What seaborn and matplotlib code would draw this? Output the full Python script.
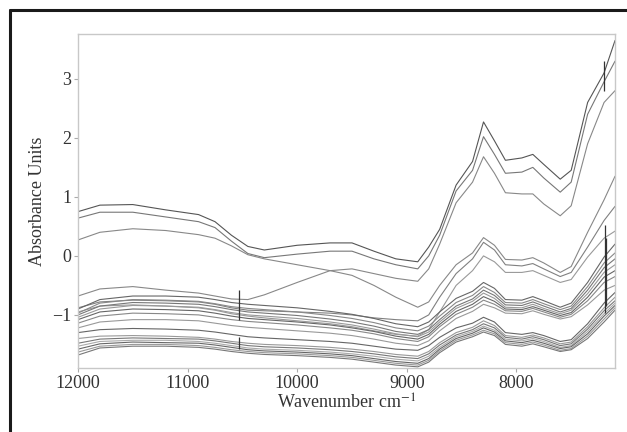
import numpy as np
import pandas as pd
import matplotlib.pyplot as plt
from matplotlib.lines import Line2D
import seaborn as sns

# wavenumber grid (cm-1)
wn = [12000, 11800, 11500, 11200, 10900, 10750, 10600, 10450, 10300, 10000,
      9700, 9500, 9300, 9100, 8900, 8800, 8700, 8550, 8400, 8300,
      8200, 8100, 7950, 7850, 7750, 7600, 7500, 7350, 7200, 7100]

# top group
A = [0.75, 0.86, 0.87, 0.78, 0.70, 0.58, 0.35, 0.16, 0.10, 0.18,
     0.22, 0.22, 0.08, -0.05, -0.10, 0.15, 0.45, 1.20, 1.60, 2.27,
     1.95, 1.62, 1.66, 1.72, 1.55, 1.30, 1.45, 2.60, 3.10, 3.65]
B = [0.64, 0.74, 0.74, 0.66, 0.58, 0.48, 0.25, 0.04, -0.03, 0.03,
     0.08, 0.08, -0.05, -0.15, -0.22, 0.00, 0.35, 1.10, 1.45, 2.02,
     1.72, 1.40, 1.42, 1.50, 1.32, 1.08, 1.25, 2.40, 2.95, 3.30]
C = [-0.68, -0.56, -0.52, -0.58, -0.63, -0.68, -0.73, -0.74, -0.66, -0.45,
     -0.25, -0.22, -0.30, -0.38, -0.43, -0.22, 0.20, 0.90, 1.25, 1.68,
     1.40, 1.07, 1.05, 1.05, 0.88, 0.68, 0.85, 1.90, 2.60, 2.80]
# middle group
M1 = [0.27, 0.40, 0.46, 0.43, 0.36, 0.30, 0.17, 0.02, -0.05, -0.15,
      -0.25, -0.33, -0.50, -0.70, -0.87, -0.78, -0.50, -0.15, 0.05, 0.31,
      0.18, -0.06, -0.07, -0.03, -0.12, -0.28, -0.18, 0.40, 0.95, 1.35]
M2 = [-0.88, -0.78, -0.75, -0.76, -0.78, -0.82, -0.88, -0.92, -0.93, -0.95,
      -0.97, -1.00, -1.05, -1.08, -1.10, -1.00, -0.70, -0.30, -0.05, 0.23,
      0.10, -0.15, -0.17, -0.13, -0.22, -0.35, -0.28, 0.15, 0.60, 0.84]
M3 = [-0.95, -0.85, -0.83, -0.85, -0.88, -0.92, -0.98, -1.02, -1.05, -1.10,
      -1.15, -1.20, -1.27, -1.33, -1.36, -1.25, -0.95, -0.50, -0.25, 0.00,
      -0.10, -0.28, -0.28, -0.25, -0.33, -0.45, -0.40, -0.02, 0.30, 0.42]
# upper part of the low bundle
U1 = [-0.90, -0.74, -0.68, -0.68, -0.70, -0.74, -0.79, -0.82, -0.84, -0.88,
      -0.94, -0.99, -1.06, -1.15, -1.20, -1.12, -0.95, -0.72, -0.60, -0.45,
      -0.55, -0.74, -0.75, -0.69, -0.76, -0.87, -0.80, -0.45, -0.02, 0.20]
U2 = [-0.97, -0.80, -0.74, -0.75, -0.77, -0.81, -0.86, -0.89, -0.91, -0.95,
      -1.01, -1.06, -1.13, -1.22, -1.27, -1.19, -1.02, -0.79, -0.67, -0.52,
      -0.62, -0.79, -0.80, -0.74, -0.81, -0.91, -0.85, -0.52, -0.12, 0.05]
U3 = [-1.00, -0.85, -0.79, -0.80, -0.82, -0.86, -0.91, -0.95, -0.97, -1.01,
      -1.07, -1.12, -1.19, -1.28, -1.33, -1.25, -1.08, -0.85, -0.73, -0.58,
      -0.67, -0.83, -0.84, -0.78, -0.85, -0.95, -0.89, -0.58, -0.20, -0.05]
U4 = [-1.04, -0.90, -0.84, -0.85, -0.87, -0.91, -0.96, -1.00, -1.02, -1.06,
      -1.12, -1.17, -1.24, -1.32, -1.37, -1.29, -1.12, -0.89, -0.77, -0.63,
      -0.72, -0.87, -0.88, -0.82, -0.89, -0.98, -0.92, -0.64, -0.28, -0.15]
U5 = [-1.08, -0.95, -0.90, -0.91, -0.93, -0.97, -1.02, -1.06, -1.08, -1.12,
      -1.17, -1.22, -1.28, -1.36, -1.41, -1.33, -1.16, -0.94, -0.82, -0.69,
      -0.77, -0.90, -0.91, -0.86, -0.92, -1.01, -0.96, -0.70, -0.36, -0.25]
U6 = [-1.14, -1.02, -0.97, -0.98, -1.00, -1.04, -1.08, -1.11, -1.13, -1.17,
      -1.22, -1.26, -1.32, -1.40, -1.45, -1.37, -1.20, -0.99, -0.87, -0.75,
      -0.82, -0.93, -0.94, -0.89, -0.95, -1.04, -0.99, -0.76, -0.45, -0.35]
U7 = [-1.22, -1.12, -1.08, -1.08, -1.10, -1.14, -1.18, -1.21, -1.23, -1.27,
      -1.31, -1.35, -1.41, -1.48, -1.52, -1.44, -1.27, -1.06, -0.94, -0.82,
      -0.88, -0.97, -0.98, -0.93, -0.99, -1.07, -1.03, -0.83, -0.58, -0.50]
# lowest bundle
L1 = [-1.30, -1.25, -1.23, -1.24, -1.26, -1.29, -1.33, -1.37, -1.39, -1.42,
      -1.45, -1.48, -1.53, -1.58, -1.60, -1.52, -1.38, -1.22, -1.14, -1.04,
      -1.12, -1.30, -1.33, -1.30, -1.35, -1.45, -1.42, -1.15, -0.80, -0.62]
L2 = [-1.40, -1.36, -1.35, -1.36, -1.38, -1.41, -1.45, -1.48, -1.50, -1.52,
      -1.55, -1.58, -1.62, -1.67, -1.70, -1.62, -1.47, -1.30, -1.21, -1.10,
      -1.18, -1.35, -1.38, -1.34, -1.39, -1.49, -1.46, -1.20, -0.88, -0.70]
L3 = [-1.48, -1.41, -1.39, -1.40, -1.41, -1.44, -1.48, -1.52, -1.54, -1.56,
      -1.59, -1.62, -1.66, -1.71, -1.74, -1.66, -1.51, -1.34, -1.25, -1.15,
      -1.22, -1.38, -1.41, -1.37, -1.42, -1.52, -1.49, -1.24, -0.93, -0.76]
L4 = [-1.53, -1.45, -1.43, -1.43, -1.45, -1.48, -1.52, -1.56, -1.58, -1.60,
      -1.63, -1.66, -1.70, -1.75, -1.78, -1.70, -1.55, -1.37, -1.28, -1.19,
      -1.26, -1.41, -1.44, -1.40, -1.45, -1.55, -1.52, -1.28, -0.98, -0.80]
L5 = [-1.58, -1.49, -1.46, -1.47, -1.48, -1.51, -1.55, -1.59, -1.61, -1.63,
      -1.66, -1.69, -1.74, -1.79, -1.82, -1.74, -1.58, -1.40, -1.31, -1.22,
      -1.29, -1.44, -1.47, -1.43, -1.48, -1.57, -1.54, -1.32, -1.02, -0.84]
L6 = [-1.63, -1.53, -1.50, -1.50, -1.52, -1.55, -1.59, -1.62, -1.64, -1.66,
      -1.69, -1.72, -1.77, -1.82, -1.85, -1.77, -1.61, -1.43, -1.34, -1.26,
      -1.32, -1.47, -1.50, -1.46, -1.51, -1.60, -1.57, -1.36, -1.07, -0.88]
L7 = [-1.68, -1.56, -1.53, -1.53, -1.55, -1.58, -1.62, -1.65, -1.67, -1.69,
      -1.72, -1.75, -1.80, -1.85, -1.88, -1.80, -1.64, -1.46, -1.37, -1.29,
      -1.35, -1.50, -1.53, -1.49, -1.54, -1.62, -1.59, -1.40, -1.12, -0.92]

spectra = {'A': A, 'B': B, 'C': C, 'M1': M1, 'M2': M2, 'M3': M3,
           'U1': U1, 'U2': U2, 'U3': U3, 'U4': U4, 'U5': U5, 'U6': U6, 'U7': U7,
           'L1': L1, 'L2': L2, 'L3': L3, 'L4': L4, 'L5': L5, 'L6': L6, 'L7': L7}

# instrument spikes: wavenumber, top, bottom
spike_wn = [10530, 10530, 7196, 7185, 7205]
spike_hi = [-0.57, -1.38, 0.53, 0.30, 3.30]
spike_lo = [-1.08, -1.58, -0.96, -0.85, 2.80]

grays = ['#555555', '#777777', '#888888', '#888888', '#808080', '#999999',
         '#666666', '#888888', '#777777', '#999999', '#666666', '#888888', '#999999',
         '#666666', '#999999', '#777777', '#aaaaaa', '#666666', '#999999', '#777777']

df = pd.concat([pd.DataFrame({'wn': wn, 'absorb': v, 'sample': k})
                for k, v in spectra.items()], ignore_index=True)

sns.set_theme(style='ticks')
plt.rcParams['font.family'] = ['Liberation Serif', 'DejaVu Serif']
plt.rcParams['mathtext.fontset'] = 'stix'

fig = plt.figure(figsize=(6.27, 4.32), dpi=100)
ax = fig.add_axes([0.1244, 0.1481, 0.8565, 0.7732])

sns.lineplot(data=df, x='wn', y='absorb', hue='sample', units='sample',
             estimator=None, palette=grays, legend=False, linewidth=0.8, ax=ax)
ax.vlines(spike_wn, spike_lo, spike_hi, color='#333333', linewidth=0.9)

ax.set_xlim(12000, 7100)
ax.set_ylim(-1.9, 3.76)
ax.set_xticks([12000, 11000, 10000, 9000, 8000])
ax.set_yticks([-1, 0, 1, 2, 3])
ax.set_yticklabels(['\u22121', '0', '1', '2', '3'])
ax.set_xlabel('Wavenumber cm$^{-1}$', fontsize=13, color='#333333', labelpad=1)
ax.set_ylabel('Absorbance Units', fontsize=13, color='#333333', labelpad=4)
ax.tick_params(labelsize=13, colors='#333333', length=3, width=0.8, color='#aaaaaa', pad=2)
for s in ax.spines.values():
    s.set_color('#c8c8c8')
    s.set_linewidth(1.0)
    s.set_visible(True)

# black frame around the figure (left and top visible)
fig.add_artist(Line2D([0.0152, 0.0152], [0.0, 0.978], transform=fig.transFigure,
                      color='#1a1a1a', linewidth=2.2))
fig.add_artist(Line2D([0.0152, 1.0], [0.978, 0.978], transform=fig.transFigure,
                      color='#1a1a1a', linewidth=2.2))

fig.savefig('out.png', dpi=100)
